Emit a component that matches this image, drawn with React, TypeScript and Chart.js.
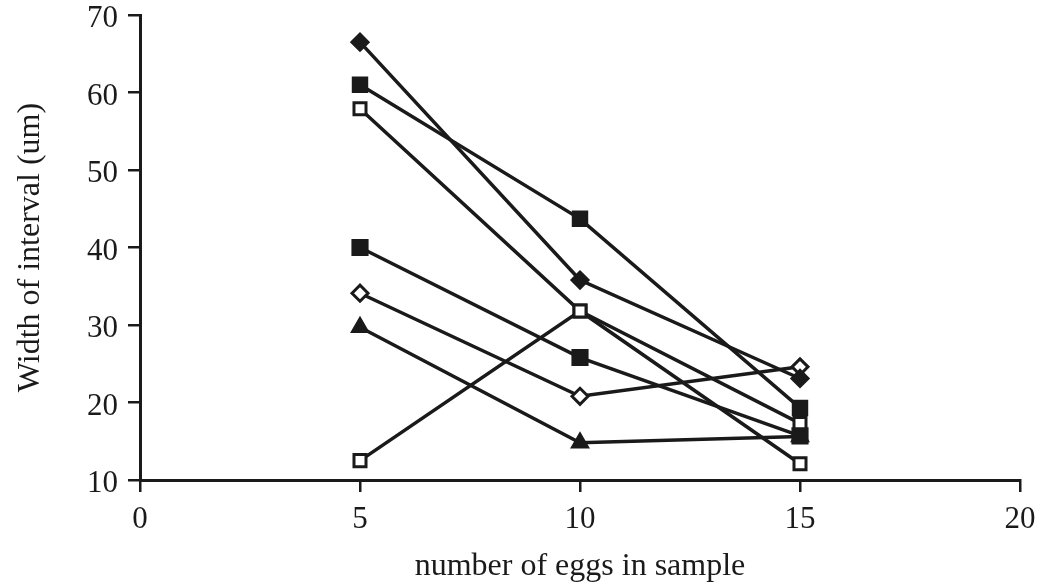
import React, { useEffect, useRef } from "react";
import { Chart, registerables } from "chart.js";

Chart.register(...registerables);

const sampleSizes = [5, 10, 15];
const seriesFilledDiamond = [66.5, 35.8, 23.1];
const seriesFilledSquareTop = [61.0, 43.7, 19.3];
const seriesOpenSquareTop = [57.9, 31.8, 12.1];
const seriesFilledSquareMid = [40.0, 25.8, 15.7];
const seriesOpenDiamond = [34.1, 20.8, 24.6];
const seriesTriangle = [29.7, 14.8, 15.6];
const seriesOpenSquareLow = [12.5, 31.8, 17.3];

const xTicks = [0, 5, 10, 15, 20];
const yTicks = [10, 20, 30, 40, 50, 60, 70];

const INK = "#1a1a1a";
const FONT = "'Liberation Serif', 'Times New Roman', serif";

type SeriesDef = { values: number[]; style: string; filled: boolean; radius: number; order: number };

const seriesDefs: SeriesDef[] = [
  { values: seriesFilledDiamond, style: "rectRot", filled: true, radius: 8, order: 1 },
  { values: seriesFilledSquareTop, style: "rect", filled: true, radius: 9.5, order: 1 },
  { values: seriesOpenSquareTop, style: "rect", filled: false, radius: 8.5, order: 1 },
  { values: seriesFilledSquareMid, style: "rect", filled: true, radius: 10, order: 1 },
  { values: seriesOpenDiamond, style: "rectRot", filled: false, radius: 8, order: 1 },
  { values: seriesTriangle, style: "triangle", filled: true, radius: 8.5, order: 5 },
  { values: seriesOpenSquareLow, style: "rect", filled: false, radius: 8.5, order: 1 },
];

export default function App() {
  const ref = useRef<HTMLCanvasElement | null>(null);

  useEffect(() => {
    if (!ref.current) return;
    const datasets = seriesDefs.map((s) => ({
      data: s.values.map((v, i) => ({ x: sampleSizes[i], y: v })),
      order: s.order,
      borderColor: INK,
      borderWidth: 3.5,
      pointStyle: s.style,
      pointRadius: s.radius,
      pointBorderWidth: 3,
      pointBorderColor: INK,
      pointBackgroundColor: s.filled ? INK : "#ffffff",
      tension: 0,
      fill: false,
    }));

    const chart = new Chart(ref.current, {
      type: "line",
      data: { datasets: datasets as any },
      options: {
        animation: false,
        responsive: false,
        devicePixelRatio: 1,
        layout: { padding: { top: 15, right: 22, left: 0, bottom: 0 } },
        plugins: { legend: { display: false }, tooltip: { enabled: false } },
        scales: {
          x: {
            type: "linear",
            min: 0,
            max: 20,
            afterBuildTicks: (scale: any) => {
              scale.ticks = xTicks.map((v) => ({ value: v }));
            },
            afterFit: (scale: any) => {
              scale.height = 106;
              scale.paddingLeft = 0;
              scale.paddingRight = 0;
            },
            border: { display: true, color: INK, width: 3 },
            grid: {
              display: true,
              drawOnChartArea: false,
              drawTicks: true,
              tickLength: 12,
              color: INK,
              lineWidth: 2.5,
            },
            ticks: {
              color: INK,
              font: { family: FONT, size: 31 },
              padding: 9,
              maxRotation: 0,
            },
            title: {
              display: true,
              text: "number of eggs in sample",
              color: INK,
              font: { family: FONT, size: 32 },
              padding: { top: 0, bottom: 0 },
            },
          },
          y: {
            type: "linear",
            min: 10,
            max: 70,
            afterBuildTicks: (scale: any) => {
              scale.ticks = yTicks.map((v) => ({ value: v }));
            },
            afterFit: (scale: any) => {
              scale.width = 140;
              scale.paddingTop = 0;
              scale.paddingBottom = 0;
            },
            border: { display: true, color: INK, width: 3 },
            grid: {
              display: true,
              drawOnChartArea: false,
              drawTicks: true,
              tickLength: 12,
              color: INK,
              lineWidth: 2.5,
            },
            ticks: {
              color: INK,
              font: { family: FONT, size: 31, lineHeight: 0.26 },
              padding: 10,
              callback: (v: any) => ["", String(v)],
            },
            title: {
              display: true,
              text: "Width of interval (um)",
              color: INK,
              font: { family: FONT, size: 32 },
              padding: { top: 11, bottom: 0 },
            },
          },
        },
      },
    });
    return () => chart.destroy();
  }, []);

  return (
    <div style={{ position: "absolute", left: 0, top: 0, width: 1042, height: 586, background: "#ffffff" }}>
      <canvas ref={ref} width={1042} height={586} style={{ width: 1042, height: 586, display: "block" }} />
    </div>
  );
}
